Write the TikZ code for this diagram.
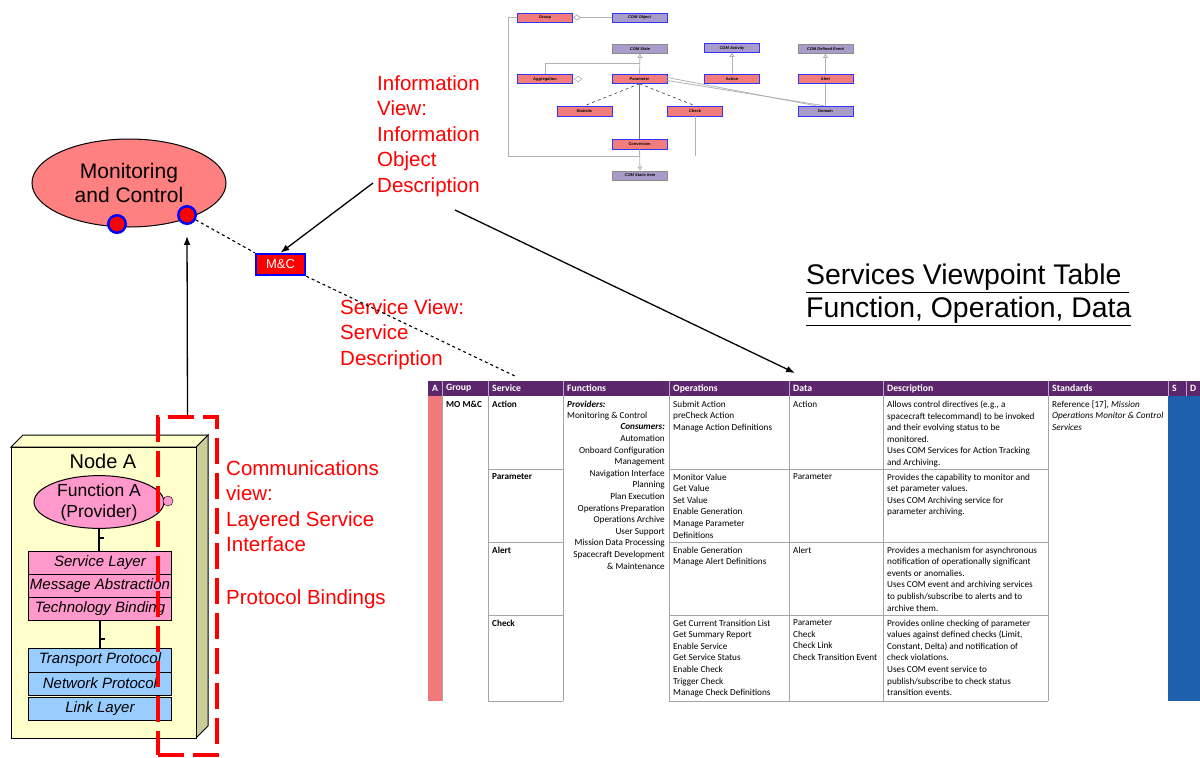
\documentclass[tikz,border=0pt]{standalone}
\usepackage{fontspec}
\setmainfont{Liberation Sans}
\newfontfamily\tabfont{Carlito}
\usetikzlibrary{arrows.meta,positioning,shapes.geometric,calc}
\definecolor{McPink}{RGB}{255,128,128}
\definecolor{LayerPink}{RGB}{255,153,204}
\definecolor{LayerBlue}{RGB}{153,204,255}
\definecolor{NodeYellow}{RGB}{255,255,204}
\definecolor{NodeKhaki}{RGB}{204,204,153}
\definecolor{HeadPurple}{RGB}{91,38,108}
\definecolor{RowSalmon}{RGB}{240,122,122}
\definecolor{ColBlue}{RGB}{30,96,174}
\definecolor{UmlSalmon}{RGB}{242,124,124}
\definecolor{UmlLilac}{RGB}{170,156,201}
\definecolor{GridGray}{RGB}{165,165,165}

\begin{document}
\begin{tikzpicture}[x=1pt,y=-1pt,>=Latex,
  redlbl/.style={text=red,font=\fontsize{20.5}{25.5}\selectfont,align=left,anchor=north west,inner sep=0},
  port/.style={circle,fill=red,draw=blue,line width=2.5pt,minimum size=17.5pt,inner sep=0},
  pinkrow/.style={draw,line width=1pt,fill=LayerPink,minimum width=143pt,minimum height=23pt,inner sep=0,outer sep=0,font=\itshape\fontsize{15}{18}\selectfont},
  bluerow/.style={pinkrow,fill=LayerBlue},
  tabtxt/.style={font=\tabfont\fontsize{9.2}{11.6}\selectfont,anchor=north west,align=left,inner sep=0},
  headtxt/.style={text=white,font=\tabfont\bfseries\fontsize{9.7}{11}\selectfont,anchor=west,inner sep=0},
  umlbox/.style={draw=blue!80,line width=0.6pt,fill=UmlSalmon,minimum width=55pt,minimum height=9pt,inner sep=0,font=\bfseries\fontsize{4}{5}\selectfont},
  umlcom/.style={umlbox,fill=UmlLilac,font=\bfseries\itshape\fontsize{4}{5}\selectfont},
  umlgrey/.style={umlcom,draw=black!45},
  umlline/.style={draw=black!30,line width=0.8pt},
  gen/.style={umlline,-{Triangle[open,length=4pt,width=5pt]}},
]
\useasboundingbox (0,0) rectangle (1200,758);

% information model
\node[umlbox] (ugroup) at (545,17.5) {Group};
\node[umlcom] (uobject) at (639.5,17.5) {COM Object};
\node[umlgrey] (ustate) at (640,49) {COM State};
\node[umlcom] (uactivity) at (732,48) {COM Activity};
\node[umlgrey] (uevent) at (825.5,49) {COM Defined Event};
\node[umlbox] (uaggr) at (545,79) {Aggregation};
\node[umlbox] (uparam) at (639.5,79) {Parameter};
\node[umlbox] (uaction) at (732,79) {Action};
\node[umlbox] (ualert) at (825.5,79) {Alert};
\node[umlbox,minimum height=10pt] (ustat) at (584.5,111) {Statistic};
\node[umlbox,minimum height=10pt] (ucheck) at (695,111) {Check};
\node[umlcom,minimum height=10pt,font=\bfseries\fontsize{4}{5}\selectfont] (udomain) at (825.5,111) {Domain};
\node[umlbox,minimum height=10pt] (uconv) at (639.5,144) {Conversion};
\node[umlgrey] (uitem) at (640,175.5) {COM Static Item};
\node[diamond,draw=black!40,inner sep=0,minimum width=8pt,minimum height=6pt] (uaggrdia) at (578,79) {};
\coordinate (uhub) at (640,63);
\coordinate (ujoin) at (640,156);

\draw[umlline,{Diamond[open,length=8pt,width=6pt]}-] (ugroup.east) -- (uobject.west);
\draw[umlline] (ugroup.west) -- ++(-9,0) |- (ujoin);
\draw[umlline] (uaggr.north) |- (uhub);
\draw[gen] (uparam.north) -- (ustate.south);
\draw[gen] (uaction.north) -- (uactivity.south);
\draw[gen] (ualert.north) -- (uevent.south);
\draw[umlline] (ualert.south) -- (udomain.north);
\draw[umlline] ([yshift=-1.5pt]uparam.east) -- ([xshift=-2pt]udomain.north);
\draw[umlline] ([yshift=1.5pt]uparam.east) -- ([xshift=-10pt]udomain.north);
\draw[dashed,black!70,line width=0.7pt] (uparam.south) -- (ustat.north);
\draw[dashed,black!70,line width=0.7pt] (uparam.south) -- (ucheck.north);
\draw[black!55,line width=0.9pt] (uparam.south) -- (uconv.north);
\draw[umlline] (ucheck.south) -- (ucheck.south |- ujoin);
\draw[gen] (uconv.south) -- (uitem.north);

% monitoring and control
\node[ellipse,draw,line width=1pt,fill=McPink,minimum width=194pt,minimum height=88pt,inner sep=0,align=center,font=\fontsize{21}{24}\selectfont] (mc) at (129,183) {Monitoring\\and Control};
\node[port] (portA) at (117,224) {};
\node[port] (portB) at (187,215) {};
\node[draw=blue,fill=red,line width=2.5pt,minimum width=49pt,minimum height=21pt,inner sep=0,text=white,font=\fontsize{13}{15}\selectfont] (mcbox) at (280.5,264.5) {M\&C};

\node[redlbl] (infoview) at (377,75) {Information\\View:\\Information\\Object\\Description};
\node[redlbl] (servview) at (340,299) {Service View:\\Service\\Description};
\node[redlbl] (commview) at (226,460) {Communications\\view:\\Layered Service\\Interface\\[27.5pt]Protocol Bindings};
\node[anchor=north west,inner sep=0,align=left,font=\fontsize{28.4}{33}\selectfont] (svtitle) at (806,264) {\underline{Services Viewpoint Table\ }\\\underline{Function, Operation, Data}};

\coordinate (infotail) at (373,183);
\coordinate (datatail) at (455,210);
\coordinate (datatip) at (795,373);
\coordinate (svctip) at (517,377);
\draw[->,line width=1.3pt] (infotail) -- (mcbox.north);
\draw[->,line width=1.3pt] (datatail) -- (datatip);
\draw[dashed,line width=1.1pt] (portB) -- (mcbox.north west);
\draw[dashed,line width=1.1pt] (mcbox.south east) -- (svctip);

% node A
\draw[line width=1pt,fill=NodeKhaki] (196,447) -- (208,435) -- (208,726) -- (196,738) -- cycle;
\draw[line width=1pt,fill=NodeYellow] (11,447) -- (23,435) -- (208,435) -- (196,447) -- cycle;
\draw[line width=1pt,fill=NodeYellow] (11,447) rectangle (196,738);
\node[font=\fontsize{20}{24}\selectfont] (nodeA) at (103,461) {Node A};
\node[ellipse,draw,line width=1pt,fill=LayerPink,minimum width=130pt,minimum height=51pt,inner sep=0,align=center,font=\fontsize{17.5}{21}\selectfont] (funcA) at (99,502) {Function A\\(Provider)};
\node[circle,draw,fill=LayerPink,minimum size=10pt,inner sep=0] (funcport) at (168,501) {};
\node[pinkrow] (svclayer) at (100,562.5) {Service Layer};
\node[pinkrow,below=0pt of svclayer] (msglayer) {Message Abstraction};
\node[pinkrow,below=0pt of msglayer] (techlayer) {Technology Binding};
\node[bluerow,minimum height=24pt] (translayer) at (100,660) {Transport Protocol};
\node[bluerow,below=0pt of translayer] (netlayer) {Network Protocol};
\node[bluerow,below=2pt of netlayer] (linklayer) {Link Layer};
\draw[line width=2.5pt] (funcA.south) -- (funcA.south |- svclayer.north);
\draw[line width=2.5pt] (99,538) -- ++(5,0);
\draw[line width=2.5pt] (techlayer.south) -- (translayer.north);
\draw[line width=2.5pt] (100,639) -- ++(5,0);

\node[draw=red,line width=4pt,dash pattern=on 26pt off 9pt,minimum width=59pt,minimum height=338pt,inner sep=0] (commbox) at (187.5,586) {};
\draw[->,line width=1.3pt,shorten >=11pt] (commbox.north) -- (portB.south);

% services table
\fill[HeadPurple] (428,381) rectangle (1200,396);
\fill[RowSalmon] (428,396) rectangle (442,701);
\fill[ColBlue] (1168,396) rectangle (1200,701);
\foreach \x in {442,488,563,669,789,883,1048,1168,1186}
  \draw[white!60!HeadPurple,line width=0.6pt] (\x,381) -- (\x,396);
\foreach \x/\t [count=\i] in {432/A,446/Group,492/Service,567/Functions,673/Operations,793/Data,887/Description,1052/Standards,1172/S,1190/D}
  \node[headtxt] (head\i) at (\x,388.5) {\t};
\foreach \x in {442,488,563,669,789,883,1048}
  \draw[GridGray,line width=0.7pt] (\x,396) -- (\x,701);
\foreach \y in {469,542,615,701}{
  \draw[GridGray,line width=0.7pt] (488,\y) -- (563,\y);
  \draw[GridGray,line width=0.7pt] (669,\y) -- (1048,\y);
}

\node[tabtxt,font=\tabfont\bfseries\fontsize{9.2}{11.6}\selectfont] (grp) at (446,400.5) {MO M\&C};
\foreach \y/\t [count=\i] in {400.5/Action,473.5/Parameter,546.5/Alert,619.5/Check}
  \node[tabtxt,font=\tabfont\bfseries\fontsize{9.2}{11.6}\selectfont] (svc\i) at (492,\y) {\t};
\node[tabtxt] (prov) at (567,400.5) {\textbf{\textit{Providers:}}\\Monitoring \& Control};
\node[tabtxt,anchor=north east,align=right] (cons) at (665,423.7) {\textbf{\textit{Consumers:}}\\Automation\\Onboard Configuration\\Management\\Navigation Interface\\Planning\\Plan Execution\\Operations Preparation\\Operations Archive\\User Support\\Mission Data Processing\\Spacecraft Development\\\& Maintenance};

\node[tabtxt] (ops1) at (673,400.5) {Submit Action\\preCheck Action\\Manage Action Definitions};
\node[tabtxt] (ops2) at (673,473.5) {Monitor Value\\Get Value\\Set Value\\Enable Generation\\Manage Parameter\\Definitions};
\node[tabtxt] (ops3) at (673,546.5) {Enable Generation\\Manage Alert Definitions};
\node[tabtxt] (ops4) at (673,619.5) {Get Current Transition List\\Get Summary Report\\Enable Service\\Get Service Status\\Enable Check\\Trigger Check\\Manage Check Definitions};

\node[tabtxt] (dat1) at (793,400.5) {Action};
\node[tabtxt] (dat2) at (793,473.5) {Parameter};
\node[tabtxt] (dat3) at (793,546.5) {Alert};
\node[tabtxt] (dat4) at (793,619.5) {Parameter\\Check\\Check Link\\Check Transition Event};

\node[tabtxt] (desc1) at (887,400.5) {Allows control directives (e.g., a\\spacecraft telecommand) to be invoked\\and their evolving status to be\\monitored.\\Uses COM Services for Action Tracking\\and Archiving.};
\node[tabtxt] (desc2) at (887,473.5) {Provides the capability to monitor and\\set parameter values.\\Uses COM Archiving service for\\parameter archiving.};
\node[tabtxt] (desc3) at (887,546.5) {Provides a mechanism for asynchronous\\notification of operationally significant\\events or anomalies.\\Uses COM event and archiving services\\to publish/subscribe to alerts and to\\archive them.};
\node[tabtxt] (desc4) at (887,619.5) {Provides online checking of parameter\\values against defined checks (Limit,\\Constant, Delta) and notification of\\check violations.\\Uses COM event service to\\publish/subscribe to check status\\transition events.};

\node[tabtxt] (stds) at (1052,400.5) {Reference [17], \textit{Mission}\\\textit{Operations Monitor \& Control}\\\textit{Services}};
\end{tikzpicture}
\end{document}
